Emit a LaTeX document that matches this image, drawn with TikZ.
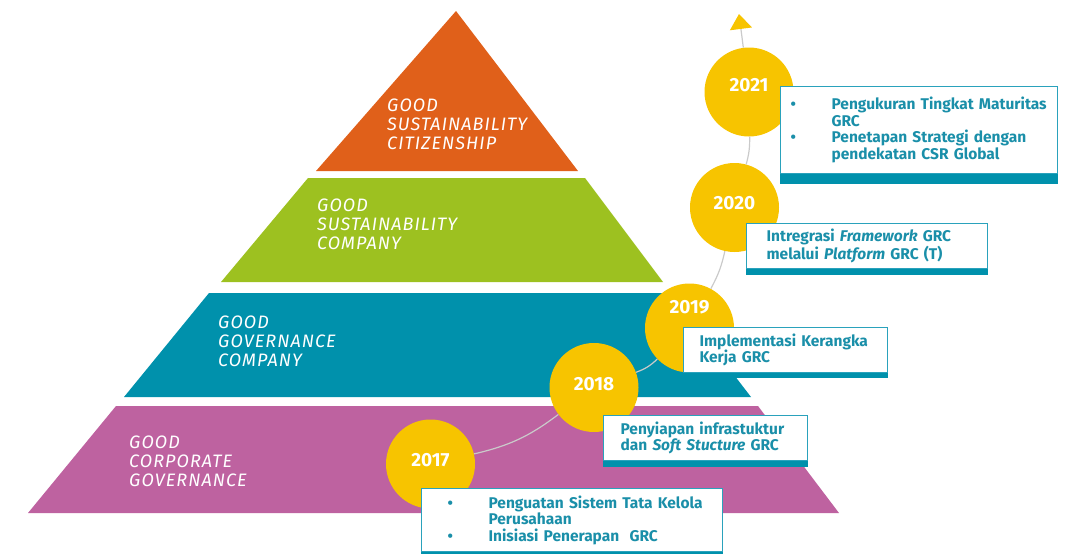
\documentclass[tikz,border=0pt]{standalone}
\usepackage{fontspec}
\setmainfont{Fira Sans}
\newfontfamily\tierfont[LetterSpace=6.0]{Fira Sans}
\usetikzlibrary{arrows.meta}
\usepackage{xcolor}

\definecolor{tierorange}{HTML}{E0601A}
\definecolor{tiergreen}{HTML}{9DC120}
\definecolor{tierteal}{HTML}{0091AC}
\definecolor{tierpurple}{HTML}{BE62A0}
\definecolor{yearyellow}{HTML}{F7C400}
\definecolor{boxline}{HTML}{2AA2BC}
\definecolor{boxbar}{HTML}{0091AC}
\definecolor{boxtext}{HTML}{1A8FA9}
\definecolor{linegray}{HTML}{CACACA}

\newcommand{\boxbullet}{\makebox[41pt][l]{\textbullet}}

\begin{document}
\begin{tikzpicture}[x=1pt,y=-1pt]
\tikzstyle{tierlabel} = [anchor=west, align=left, text=white, inner sep=0pt,
font=\tierfont\itshape\fontsize{18}{19}\selectfont]
\tikzstyle{yearcircle} = [circle, fill=yearyellow, minimum size=89pt, inner sep=0pt,
text=white, font=\bfseries\fontsize{19}{19}\selectfont, text depth=8pt]
\tikzstyle{infobox} = [rectangle, draw=boxline, line width=1.2pt, fill=white,
anchor=north west, inner xsep=0pt, inner ysep=0pt, align=left, text=boxtext,
font=\bfseries\fontsize{15.5}{16.5}\selectfont]
\tikzstyle{connector} = [draw=linegray, line width=1.2pt]

\useasboundingbox (0,0) rectangle (1065,554);

% pyramid
\fill[tierorange] (456,11) -- (578,171) -- (316,171) -- cycle;
\fill[tiergreen] (308,178) -- (585,178) -- (663,282) -- (221,282) -- cycle;
\fill[tierteal] (209,293) -- (671,293) -- (751,397) -- (124,397) -- cycle;
\fill[tierpurple] (116,406) -- (758,406) -- (839,513) -- (28,513) -- cycle;

\node[tierlabel] (citizenship) at (387,124) {GOOD\\SUSTAINABILITY\\CITIZENSHIP};
\node[tierlabel] (company) at (317,224) {GOOD\\SUSTAINABILITY\\COMPANY};
\node[tierlabel] (governance) at (218,341) {GOOD\\GOVERNANCE\\COMPANY};
\node[tierlabel] (corporate) at (129,461) {GOOD\\CORPORATE\\GOVERNANCE};

% years
\node[yearcircle, text depth=14pt] (y2021) at (749,92) {2021};
\node[yearcircle, text depth=9pt] (y2020) at (734.5,207.5) {2020};
\node[yearcircle, text depth=42pt] (y2019) at (689.5,328) {2019};
\node[yearcircle, text depth=7pt] (y2018) at (594,387.5) {2018};
\node[yearcircle] (y2017) at (430.5,464) {2017};

\coordinate (tip) at (739,14);
\path[connector] (y2017) to[bend right=12] (y2018);
\path[connector] (y2018) to[bend right=12] (y2019);
\path[connector] (y2019) to[bend right=8] (y2020);
\path[connector] (y2020) to[bend right=8] (y2021);
\draw[connector, -{Triangle[width=22pt,length=15pt,color=yearyellow]}] (y2021) -- (tip);

% notes
\node[infobox, text width=277pt, minimum height=87pt] (b2021) at (780,86)
{\hspace*{10pt}\boxbullet Pengukuran Tingkat Maturitas\\
\hspace*{51pt}GRC\\
\hspace*{10pt}\boxbullet Penetapan Strategi dengan\\
\hspace*{51pt}pendekatan CSR Global};
\node[infobox, text width=241pt, minimum height=45pt] (b2020) at (746,223)
{\hspace*{20pt}Intregrasi \textit{Framework} GRC\\
\hspace*{20pt}melalui \textit{Platform} GRC (T)};
\node[infobox, text width=204pt, minimum height=45pt] (b2019) at (683,327)
{\hspace*{16pt}Implementasi Kerangka\\
\hspace*{16pt}Kerja GRC};
\node[infobox, text width=204pt, minimum height=45pt] (b2018) at (603,415)
{\hspace*{17pt}Penyiapan infrastuktur\\
\hspace*{17pt}dan \textit{Soft Stucture} GRC};
\node[infobox, text width=301pt, minimum height=63pt] (b2017) at (421,488)
{\hspace*{26pt}\boxbullet Penguatan Sistem Tata Kelola\\
\hspace*{67pt}Perusahaan\\
\hspace*{26pt}\boxbullet Inisiasi Penerapan\ \ GRC};

\foreach \b/\t in {b2021/10, b2020/6, b2019/5, b2018/6, b2017/2}
  \fill[boxbar] (\b.south west) rectangle ([yshift=-\t pt]\b.south east);

\end{tikzpicture}
\end{document}
